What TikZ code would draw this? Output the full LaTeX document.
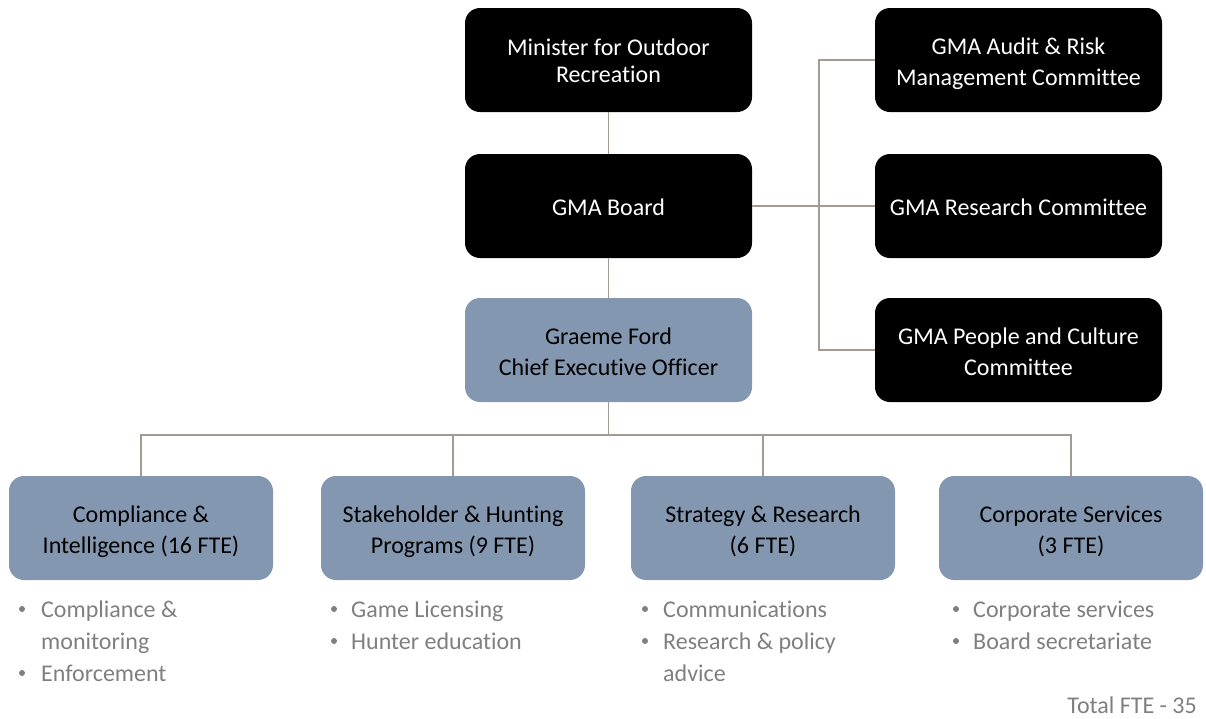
\documentclass[tikz,border=0pt]{standalone}
\usepackage{fontspec}
\setmainfont{Carlito}[Ligatures=CommonOff]
\definecolor{boxblue}{HTML}{8497B0}
\definecolor{linktan}{HTML}{A59A8F}
\definecolor{listgray}{HTML}{7F7F7F}
\begin{document}
\begin{tikzpicture}[x=1pt,y=-1pt,
  box/.style={draw=none,rounded corners=15pt,minimum width=287pt,minimum height=104pt},
  blackbox/.style={box,fill=black},
  unitbox/.style={box,fill=boxblue},
  teambox/.style={unitbox,minimum width=264pt},
  % captions are anchored on the baseline of their last line
  boxtext/.style={anchor=base,inner sep=0pt,align=center,font=\fontsize{24}{31.3}\selectfont},
  whitetext/.style={boxtext,text=white},
  link/.style={draw=linktan,line width=1.1pt},
  item/.style={anchor=base west,inner sep=0pt,text=listgray,font=\fontsize{24}{32}\selectfont},
  dot/.style={fill=listgray,draw=none,circle,inner sep=0pt,minimum size=6pt}]
\useasboundingbox (0,0) rectangle (1206,718);

% governance column
\node[blackbox] (min) at (608.5,60) {};
\node[blackbox] (board) at (608.5,206) {};
\node[unitbox] (ceo) at (608.5,350) {};

% board committees
\node[blackbox] (audit) at (1018.5,60) {};
\node[blackbox] (research) at (1018.5,206) {};
\node[blackbox] (people) at (1018.5,350) {};

% business units
\node[teambox] (comp) at (141,528) {};
\node[teambox] (stake) at (453,528) {};
\node[teambox] (strat) at (763,528) {};
\node[teambox] (corp) at (1071,528) {};

% box captions
\node[whitetext,font=\fontsize{24}{27.7}\selectfont] (min-t) at ([yshift=-22.7pt]min.center) {Minister for Outdoor\\Recreation};
\node[whitetext] (board-t) at ([yshift=-9.5pt]board.center) {GMA Board};
\node[boxtext] (ceo-t) at ([yshift=-25.3pt]ceo.center) {Graeme Ford\\Chief Executive Officer};
\node[whitetext] (audit-t) at ([yshift=-25.3pt]audit.center) {GMA Audit \& Risk\\Management Committee};
\node[whitetext] (research-t) at ([yshift=-9.5pt]research.center) {GMA Research Committee};
\node[whitetext] (people-t) at ([yshift=-25.3pt]people.center) {GMA People and Culture\\Committee};
\node[boxtext] (comp-t) at ([yshift=-25.3pt]comp.center) {Compliance \&\\Intelligence (16 FTE)};
\node[boxtext] (stake-t) at ([yshift=-25.3pt]stake.center) {Stakeholder \& Hunting\\Programs (9 FTE)};
\node[boxtext] (strat-t) at ([yshift=-25.3pt]strat.center) {Strategy \& Research\\(6 FTE)};
\node[boxtext] (corp-t) at ([yshift=-25.3pt]corp.center) {Corporate Services\\(3 FTE)};

% reporting lines
\coordinate (bus) at (819,206);
\coordinate (split) at (608.5,435);
\draw[link] (min.south) -- (board.north);
\draw[link] (board.south) -- (ceo.north);
\draw[link] (board.east) -- (research.west);
\draw[link] (audit.west) -| (bus) |- (people.west);
\draw[link] (ceo.south) -- (split);
\draw[link] (split) -| (comp.north);
\draw[link] (split) -| (stake.north);
\draw[link] (split) -| (strat.north);
\draw[link] (split) -| (corp.north);

% functions of each unit
\node[dot] (d11) at (22,609) {};
\node[item] (t11) at (41,617) {Compliance \&};
\node[item] (t12) at (41,649) {monitoring};
\node[dot] (d12) at (22,673) {};
\node[item] (t13) at (41,681) {Enforcement};

\node[dot] (d21) at (334,609) {};
\node[item] (t21) at (351,617) {Game Licensing};
\node[dot] (d22) at (334,641) {};
\node[item] (t22) at (351,649) {Hunter education};

\node[dot] (d31) at (645,609) {};
\node[item] (t31) at (663,617) {Communications};
\node[dot] (d32) at (645,641) {};
\node[item] (t32) at (663,649) {Research \& policy};
\node[item] (t33) at (663,681) {advice};

\node[dot] (d41) at (956,609) {};
\node[item] (t41) at (973,617) {Corporate services};
\node[dot] (d42) at (956,641) {};
\node[item] (t42) at (973,649) {Board secretariate};

\node[item,anchor=base east] (total) at (1197,713) {Total FTE - 35};
\end{tikzpicture}
\end{document}
